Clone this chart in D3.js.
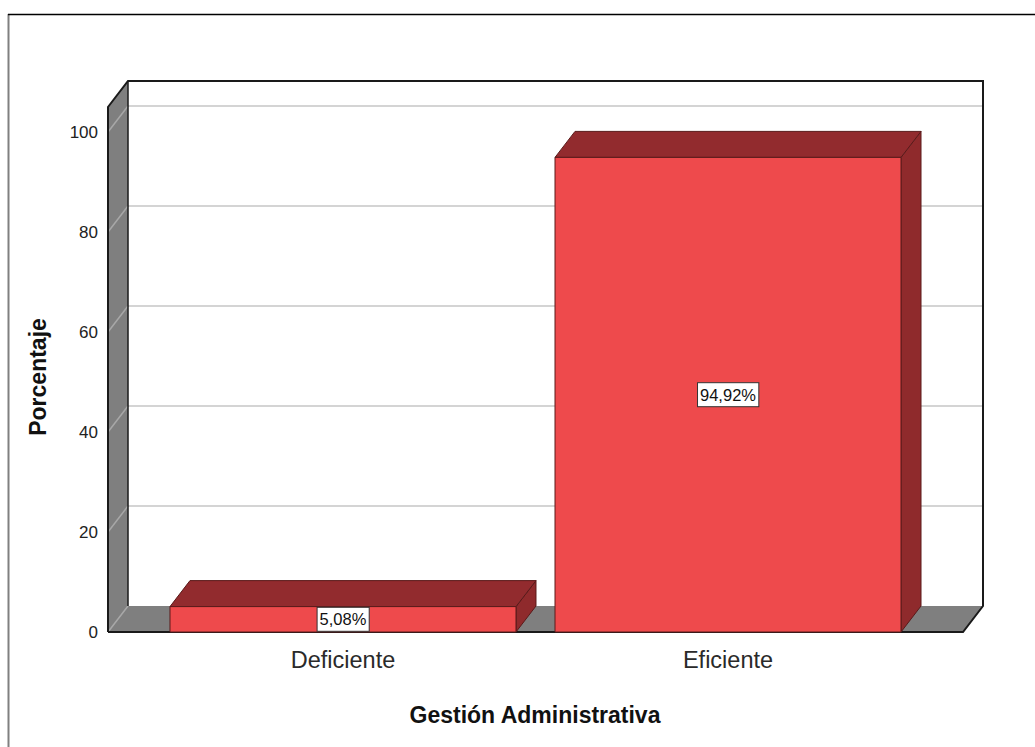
<!DOCTYPE html>
<html>
<head>
<meta charset="utf-8">
<script src="https://cdn.jsdelivr.net/npm/d3@7"></script>
<style>
  html, body { margin: 0; padding: 0; background: #fff; }
  svg { display: block; font-family: "Liberation Sans", Arial, sans-serif; }
</style>
</head>
<body>
<svg id="chart" width="1035" height="747"></svg>
<script>
const categories = ["Deficiente", "Eficiente"];
const values = [5.08, 94.92];
const valueLabels = ["5,08%", "94,92%"];
const yTicks = [0, 20, 40, 60, 80, 100];
const xTitle = "Gestión Administrativa";
const yTitle = "Porcentaje";

const svg = d3.select("#chart");
const dx = 20, dy = 26;
const frontLeft = 108, frontRight = 963, frontBottom = 632;

const y = d3.scaleLinear().domain([0, 105]).range([frontBottom, frontBottom - 525]);
const x = d3.scaleBand().domain(categories).range([frontLeft, frontRight])
  .paddingInner(0.1013).paddingOuter(0.161);

// outer frame
svg.append("line").attr("x1", 8.5).attr("x2", 8.5).attr("y1", 14).attr("y2", 747)
  .attr("stroke", "#808080").attr("stroke-width", 2);
svg.append("line").attr("x1", 8).attr("x2", 1035).attr("y1", 14.5).attr("y2", 14.5)
  .attr("stroke", "#000").attr("stroke-width", 1.5);

const topY = y(105);
// back wall
svg.append("rect").attr("x", frontLeft + dx).attr("y", topY - dy)
  .attr("width", frontRight - frontLeft).attr("height", frontBottom - topY)
  .attr("fill", "#fff");

// gridlines on back wall and left wall
const gridVals = yTicks.filter(d => d > 0);
svg.append("g").selectAll("line.gb").data(gridVals).join("line")
  .attr("x1", frontLeft + dx).attr("x2", frontRight + dx)
  .attr("y1", d => y(d) - dy).attr("y2", d => y(d) - dy)
  .attr("stroke", "#d4d4d4").attr("stroke-width", 2);

// left wall
const lw = [[frontLeft, y(105)], [frontLeft + dx, y(105) - dy], [frontLeft + dx, frontBottom - dy], [frontLeft, frontBottom]];
svg.append("path").attr("d", d3.line()(lw) + "Z").attr("fill", "#7f7f7f");
svg.append("g").selectAll("line.gl").data(gridVals).join("line")
  .attr("x1", frontLeft).attr("x2", frontLeft + dx)
  .attr("y1", d => y(d)).attr("y2", d => y(d) - dy)
  .attr("stroke", "#a8a8a8").attr("stroke-width", 1.5);

// floor
const fl = [[frontLeft, frontBottom], [frontLeft + dx, frontBottom - dy], [frontRight + dx, frontBottom - dy], [frontRight, frontBottom]];
svg.append("path").attr("d", d3.line()(fl) + "Z").attr("fill", "#7f7f7f");
svg.append("line").attr("x1", frontLeft).attr("x2", frontLeft + dx)
  .attr("y1", frontBottom).attr("y2", frontBottom - dy).attr("stroke", "#a8a8a8").attr("stroke-width", 1.5);

// frame outlines
const outline = svg.append("g").attr("fill", "none").attr("stroke", "#1a1a1a").attr("stroke-width", 2);
outline.append("path").attr("d", d3.line()([
  [frontLeft, frontBottom], [frontLeft, y(105)], [frontLeft + dx, y(105) - dy],
  [frontRight + dx, y(105) - dy], [frontRight + dx, frontBottom - dy], [frontRight, frontBottom], [frontLeft, frontBottom]
]));
outline.append("line").attr("x1", frontLeft + dx).attr("x2", frontLeft + dx)
  .attr("y1", y(105) - dy).attr("y2", frontBottom - dy).attr("stroke-width", 1.5);

// bars
const bars = svg.append("g");
categories.forEach((c, i) => {
  const x0 = x(c), x1 = x(c) + x.bandwidth();
  const yt = y(values[i]), yb = y(0);
  const g = bars.append("g").attr("stroke", "#5a1a1a").attr("stroke-width", 1).attr("stroke-linejoin", "round");
  g.append("path").attr("d", d3.line()([[x1, yb], [x1, yt], [x1 + dx, yt - dy], [x1 + dx, yb - dy]]) + "Z")
    .attr("fill", "#8f2a2c");
  g.append("path").attr("d", d3.line()([[x0, yt], [x0 + dx, yt - dy], [x1 + dx, yt - dy], [x1, yt]]) + "Z")
    .attr("fill", "#922b2e");
  g.append("rect").attr("x", x0).attr("y", yt).attr("width", x1 - x0).attr("height", yb - yt)
    .attr("fill", "#ee4a4c");
});

// value labels
categories.forEach((c, i) => {
  const cx = x(c) + x.bandwidth() / 2;
  const cy = (y(values[i]) + y(0)) / 2;
  const g = svg.append("g");
  const t = g.append("text").attr("x", cx).attr("y", cy).attr("text-anchor", "middle")
    .attr("dominant-baseline", "central").attr("font-size", 16.5).attr("fill", "#111").text(valueLabels[i]);
  const bb = t.node().getBBox();
  g.insert("rect", "text").attr("x", bb.x - 2.5).attr("y", cy - 12).attr("width", bb.width + 5).attr("height", 24)
    .attr("fill", "#fff").attr("stroke", "#333").attr("stroke-width", 1);
});

// y tick labels
svg.append("g").selectAll("text").data(yTicks).join("text")
  .attr("x", 98).attr("y", d => y(d)).attr("text-anchor", "end").attr("dominant-baseline", "central")
  .attr("font-family", "'Liberation Sans Narrow', 'Liberation Sans', Arial, sans-serif")
  .attr("font-size", 17).attr("fill", "#222").text(d => d);

// category labels
svg.append("g").selectAll("text").data(categories).join("text")
  .attr("x", d => x(d) + x.bandwidth() / 2).attr("y", 660).attr("text-anchor", "middle")
  .attr("dominant-baseline", "central").attr("font-size", 23.5).attr("fill", "#2a2a2a").text(d => d);

// axis titles
svg.append("text").attr("x", 535).attr("y", 715).attr("text-anchor", "middle")
  .attr("dominant-baseline", "central").attr("font-size", 23).attr("font-weight", "bold").attr("fill", "#111").text(xTitle);
svg.append("text").attr("transform", "translate(38,377) rotate(-90)").attr("text-anchor", "middle")
  .attr("dominant-baseline", "central").attr("font-size", 23).attr("font-weight", "bold").attr("fill", "#111").text(yTitle);
</script>
</body>
</html>
